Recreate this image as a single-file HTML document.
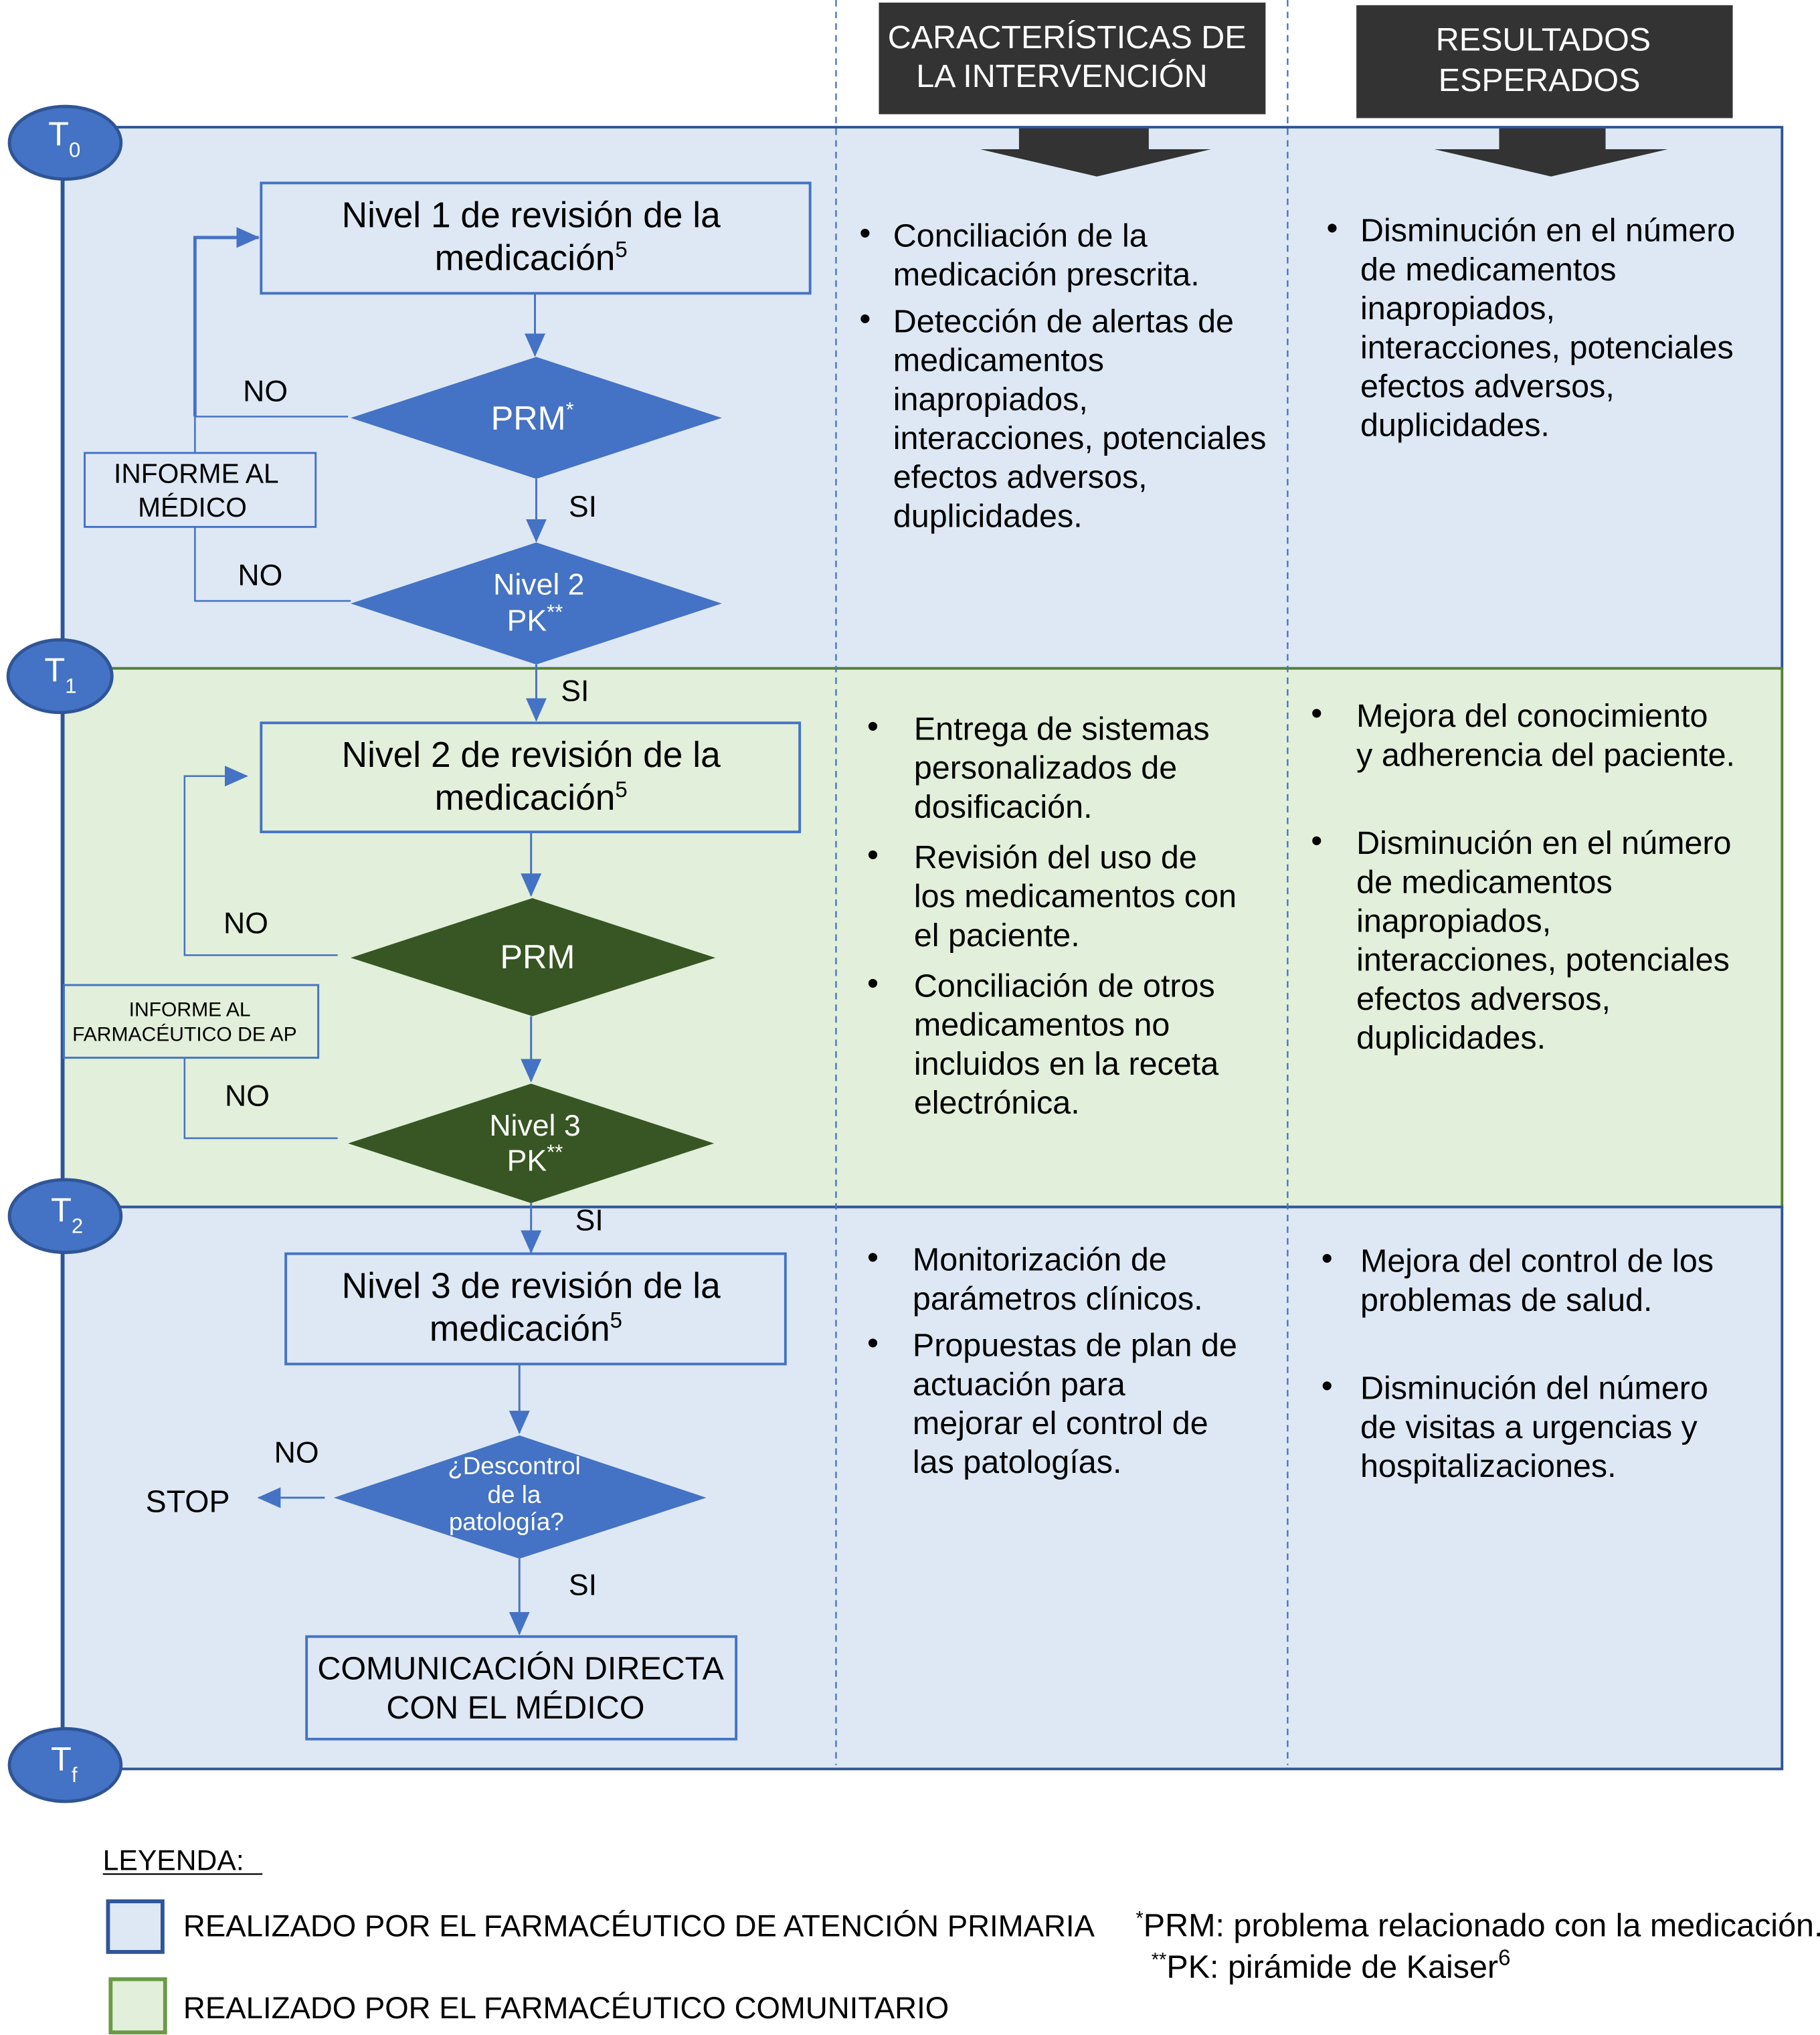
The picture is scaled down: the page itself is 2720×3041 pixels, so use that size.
<!DOCTYPE html>
<html><head><meta charset="utf-8"><style>
html,body{margin:0;padding:0;background:#fff;}
svg{display:block;}
text{font-family:"Liberation Sans",Arial,sans-serif;fill:#000;}
</style></head><body>
<svg width="2720" height="3041" viewBox="0 0 1402 1568" xmlns="http://www.w3.org/2000/svg">
<defs>
<marker id="ar2" markerWidth="18" markerHeight="16" refX="17" refY="8" orient="auto" markerUnits="userSpaceOnUse"><path d="M0,0 L18,8 L0,16 z" fill="#4472c4"/></marker>
</defs>
<rect x="48" y="98" width="1325" height="417" fill="#dde8f4" stroke="#2f5597" stroke-width="2"/>
<rect x="48" y="515" width="1325" height="415" fill="#e2efda" stroke="#548235" stroke-width="2"/>
<rect x="48" y="930" width="1325" height="433" fill="#dde8f4" stroke="#2f5597" stroke-width="2"/>
<line x1="48" y1="98" x2="48" y2="1363" stroke="#2f5597" stroke-width="3"/>
<line x1="644" y1="0" x2="644" y2="1360" stroke="#4472c4" stroke-width="1.2" stroke-dasharray="5,4"/>
<line x1="992" y1="0" x2="992" y2="1360" stroke="#4472c4" stroke-width="1.2" stroke-dasharray="5,4"/>
<rect x="677" y="2" width="298" height="86" fill="#333"/>
<text x="822" y="37" font-size="25" text-anchor="middle" style="fill:#fff">CARACTERÍSTICAS DE</text>
<text x="818" y="67" font-size="25" text-anchor="middle" style="fill:#fff">LA INTERVENCIÓN</text>
<rect x="1045" y="4" width="290" height="87" fill="#333"/>
<text x="1189" y="39" font-size="25" text-anchor="middle" style="fill:#fff">RESULTADOS</text>
<text x="1186" y="70" font-size="25" text-anchor="middle" style="fill:#fff">ESPERADOS</text>
<path d="M785,99 H885 V115 H933 L845,136 L755,115 H785 Z" fill="#333"/>
<path d="M1155,99 H1237 V115 H1285 L1195,136 L1105,115 H1155 Z" fill="#333"/>
<g stroke="#2f5597" stroke-width="2.5" fill="#4472c4">
<ellipse cx="50" cy="110" rx="43" ry="28"/>
<ellipse cx="46" cy="521" rx="40" ry="28"/>
<ellipse cx="50" cy="937" rx="43" ry="28"/>
<ellipse cx="50" cy="1360" rx="43" ry="28"/>
</g>
<g font-size="26">
<text x="37" y="112" style="fill:#fff">T<tspan font-size="16" dy="9" style="fill:#fff">0</tspan></text>
<text x="34" y="525" style="fill:#fff">T<tspan font-size="16" dy="9" style="fill:#fff">1</tspan></text>
<text x="39" y="941" style="fill:#fff">T<tspan font-size="16" dy="9" style="fill:#fff">2</tspan></text>
<text x="39" y="1364" style="fill:#fff">T<tspan font-size="16" dy="9" style="fill:#fff">f</tspan></text>
</g>
<rect x="201" y="141" width="423" height="85" fill="none" stroke="#4472c4" stroke-width="2"/>
<text x="409" y="175" font-size="27.5" text-anchor="middle">Nivel 1 de revisión de la</text>
<text x="409" y="208" font-size="27.5" text-anchor="middle">medicación<tspan font-size="17" dy="-10">5</tspan></text>
<line x1="412" y1="226" x2="412" y2="274" stroke="#4472c4" stroke-width="1.5" marker-end="url(#ar2)"/>
<polygon points="270,322 413,275 556,322 413,369" fill="#4472c4"/>
<text x="410" y="331" font-size="26" text-anchor="middle" style="fill:#fff">PRM<tspan font-size="16" dy="-10" style="fill:#fff">*</tspan></text>
<line x1="413" y1="369" x2="413" y2="417" stroke="#4472c4" stroke-width="1.5" marker-end="url(#ar2)"/>
<polygon points="270,465 413,418 556,465 413,512" fill="#4472c4"/>
<text x="415" y="458" font-size="23" text-anchor="middle" style="fill:#fff">Nivel 2</text>
<text x="412" y="486" font-size="23" text-anchor="middle" style="fill:#fff">PK<tspan font-size="16" dy="-9" style="fill:#fff">**</tspan></text>
<rect x="65" y="349" width="178" height="57" fill="none" stroke="#4472c4" stroke-width="1.5"/>
<text x="151" y="372" font-size="21" text-anchor="middle">INFORME AL</text>
<text x="148" y="398" font-size="21" text-anchor="middle">MÉDICO</text>
<polyline points="268,321 150,321 150,349" fill="none" stroke="#4472c4" stroke-width="1.3"/>
<polyline points="150,321 150,183 199,183" fill="none" stroke="#4472c4" stroke-width="2.5" marker-end="url(#ar2)"/>
<polyline points="150,406 150,463 270,463" fill="none" stroke="#4472c4" stroke-width="1.3"/>
<text x="187" y="309" font-size="23">NO</text>
<text x="183" y="451" font-size="23">NO</text>
<text x="438" y="398" font-size="23">SI</text>
<text x="432" y="540" font-size="23">SI</text>
<line x1="413" y1="512" x2="413" y2="555" stroke="#4472c4" stroke-width="1.5" marker-end="url(#ar2)"/>
<g font-size="25">
<text x="662" y="188">•</text><text x="688" y="190">Conciliación de la</text><text x="688" y="220">medicación prescrita.</text>
<text x="662" y="254">•</text><text x="688" y="256">Detección de alertas de</text><text x="688" y="286">medicamentos</text><text x="688" y="316">inapropiados,</text><text x="688" y="346">interacciones, potenciales</text><text x="688" y="376">efectos adversos,</text><text x="688" y="406">duplicidades.</text>
<text x="1022" y="184">•</text><text x="1048" y="186">Disminución en el número</text><text x="1048" y="216">de medicamentos</text><text x="1048" y="246">inapropiados,</text><text x="1048" y="276">interacciones, potenciales</text><text x="1048" y="306">efectos adversos,</text><text x="1048" y="336">duplicidades.</text>
</g>
<rect x="201" y="557" width="415" height="84" fill="none" stroke="#4472c4" stroke-width="2"/>
<text x="409" y="591" font-size="27.5" text-anchor="middle">Nivel 2 de revisión de la</text>
<text x="409" y="624" font-size="27.5" text-anchor="middle">medicación<tspan font-size="17" dy="-10">5</tspan></text>
<line x1="409" y1="641" x2="409" y2="690" stroke="#4472c4" stroke-width="1.5" marker-end="url(#ar2)"/>
<polygon points="270,738 410,692 551,738 410,783" fill="#375623"/>
<text x="414" y="746" font-size="26" text-anchor="middle" style="fill:#fff">PRM</text>
<line x1="409" y1="783" x2="409" y2="833" stroke="#4472c4" stroke-width="1.5" marker-end="url(#ar2)"/>
<polygon points="268,881 409,835 550,881 409,927" fill="#375623"/>
<text x="412" y="875" font-size="23" text-anchor="middle" style="fill:#fff">Nivel 3</text>
<text x="412" y="902" font-size="23" text-anchor="middle" style="fill:#fff">PK<tspan font-size="16" dy="-9" style="fill:#fff">**</tspan></text>
<rect x="49" y="759" width="196" height="56" fill="none" stroke="#4472c4" stroke-width="1.5"/>
<text x="146" y="783" font-size="15.5" text-anchor="middle">INFORME AL</text>
<text x="142" y="802" font-size="15.5" text-anchor="middle">FARMACÉUTICO DE AP</text>
<polyline points="260,736 142,736 142,598 190,598" fill="none" stroke="#4472c4" stroke-width="1.3" marker-end="url(#ar2)"/>
<polyline points="142,815 142,877 260,877" fill="none" stroke="#4472c4" stroke-width="1.3"/>
<text x="172" y="719" font-size="23">NO</text>
<text x="173" y="852" font-size="23">NO</text>
<g font-size="25">
<text x="668" y="568">•</text><text x="704" y="570">Entrega de sistemas</text><text x="704" y="600">personalizados de</text><text x="704" y="630">dosificación.</text>
<text x="668" y="667">•</text><text x="704" y="669">Revisión del uso de</text><text x="704" y="699">los medicamentos con</text><text x="704" y="729">el paciente.</text>
<text x="668" y="766">•</text><text x="704" y="768">Conciliación de otros</text><text x="704" y="798">medicamentos no</text><text x="704" y="828">incluidos en la receta</text><text x="704" y="858">electrónica.</text>
<text x="1010" y="558">•</text><text x="1045" y="560">Mejora del conocimiento</text><text x="1045" y="590">y adherencia del paciente.</text>
<text x="1010" y="656">•</text><text x="1045" y="658">Disminución en el número</text><text x="1045" y="688">de medicamentos</text><text x="1045" y="718">inapropiados,</text><text x="1045" y="748">interacciones, potenciales</text><text x="1045" y="778">efectos adversos,</text><text x="1045" y="808">duplicidades.</text>
</g>
<line x1="409" y1="927" x2="409" y2="965" stroke="#4472c4" stroke-width="1.5" marker-end="url(#ar2)"/>
<text x="443" y="948" font-size="23">SI</text>
<rect x="220" y="966" width="385" height="85" fill="none" stroke="#4472c4" stroke-width="2"/>
<text x="409" y="1000" font-size="27.5" text-anchor="middle">Nivel 3 de revisión de la</text>
<text x="405" y="1033" font-size="27.5" text-anchor="middle">medicación<tspan font-size="17" dy="-10">5</tspan></text>
<line x1="400" y1="1051" x2="400" y2="1104" stroke="#4472c4" stroke-width="1.5" marker-end="url(#ar2)"/>
<polygon points="257,1154 400,1106 544,1154 400,1201" fill="#4472c4"/>
<text x="396" y="1136" font-size="19" text-anchor="middle" style="fill:#fff">¿Descontrol</text>
<text x="396" y="1158" font-size="19" text-anchor="middle" style="fill:#fff">de la</text>
<text x="390" y="1179" font-size="19" text-anchor="middle" style="fill:#fff">patología?</text>
<line x1="250" y1="1154" x2="199" y2="1154" stroke="#4472c4" stroke-width="1.5" marker-end="url(#ar2)"/>
<text x="211" y="1127" font-size="23">NO</text>
<text x="112" y="1165" font-size="24">STOP</text>
<line x1="400" y1="1201" x2="400" y2="1259" stroke="#4472c4" stroke-width="1.5" marker-end="url(#ar2)"/>
<text x="438" y="1229" font-size="23">SI</text>
<rect x="236" y="1261" width="331" height="79" fill="none" stroke="#4472c4" stroke-width="2"/>
<text x="401" y="1294" font-size="25" text-anchor="middle">COMUNICACIÓN DIRECTA</text>
<text x="397" y="1324" font-size="25" text-anchor="middle">CON EL MÉDICO</text>
<g font-size="25">
<text x="668" y="977">•</text><text x="703" y="979">Monitorización de</text><text x="703" y="1009">parámetros clínicos.</text>
<text x="668" y="1043">•</text><text x="703" y="1045">Propuestas de plan de</text><text x="703" y="1075">actuación para</text><text x="703" y="1105">mejorar el control de</text><text x="703" y="1135">las patologías.</text>
<text x="1018" y="978">•</text><text x="1048" y="980">Mejora del control de los</text><text x="1048" y="1010">problemas de salud.</text>
<text x="1018" y="1076">•</text><text x="1048" y="1078">Disminución del número</text><text x="1048" y="1108">de visitas a urgencias y</text><text x="1048" y="1138">hospitalizaciones.</text>
</g>
<text x="79" y="1441" font-size="22">LEYENDA: </text>
<line x1="79" y1="1444" x2="202" y2="1444" stroke="#000" stroke-width="1.2"/>
<rect x="83" y="1465" width="42" height="39" fill="#dde8f4" stroke="#2f5597" stroke-width="3"/>
<text x="141" y="1492" font-size="23.5">REALIZADO POR EL FARMACÉUTICO DE ATENCIÓN PRIMARIA</text>
<rect x="85" y="1525" width="42" height="41" fill="#e2efda" stroke="#6a9a46" stroke-width="3"/>
<text x="141" y="1555" font-size="23.5">REALIZADO POR EL FARMACÉUTICO COMUNITARIO</text>
<text x="875" y="1492" font-size="25"><tspan font-size="15" dy="-9">*</tspan><tspan dy="9">PRM: problema relacionado con la medicación.</tspan></text>
<text x="887" y="1524" font-size="25"><tspan font-size="15" dy="-9">**</tspan><tspan dy="9">PK:  pirámide de Kaiser</tspan><tspan font-size="17" dy="-10">6</tspan></text>
</svg>
</body></html>
